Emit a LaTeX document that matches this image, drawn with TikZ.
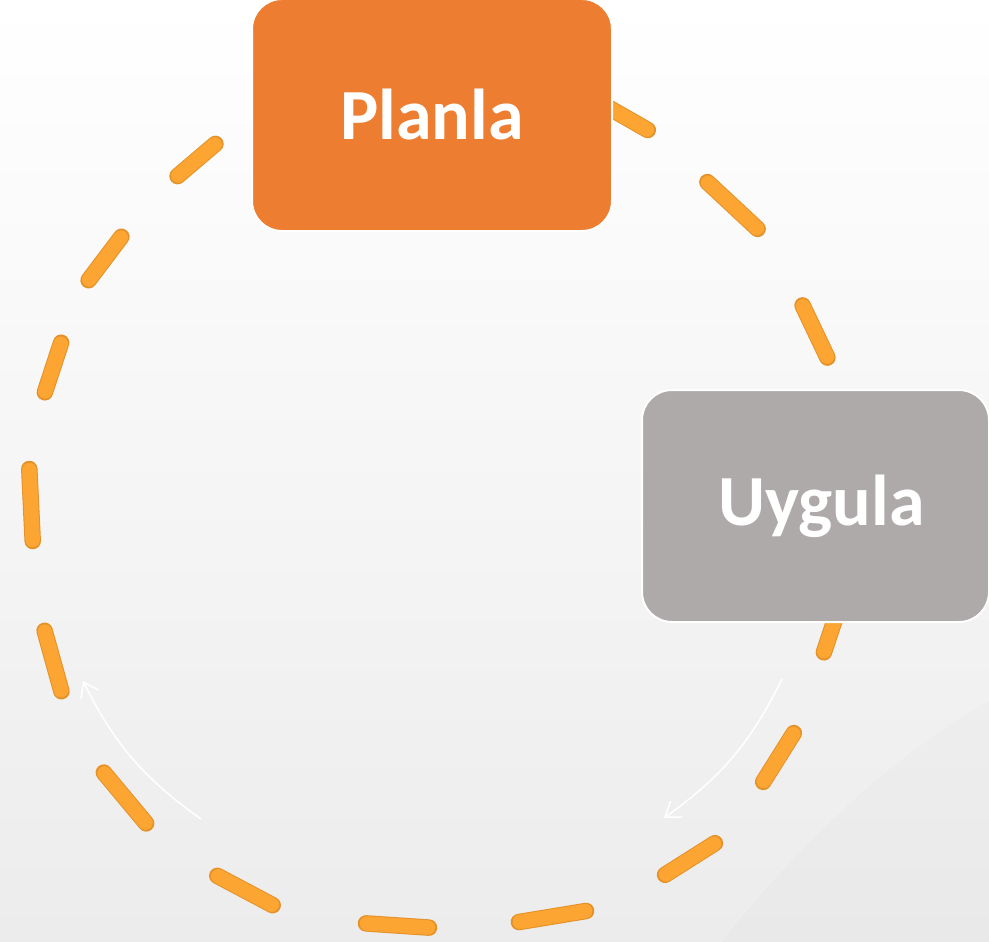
\documentclass[tikz,border=0pt]{standalone}
\usepackage{fontspec}
\setmainfont{Carlito}
\usetikzlibrary{arrows.meta}
\definecolor{boxorange}{RGB}{237,125,49}
\definecolor{boxgray}{RGB}{174,170,170}
\definecolor{dashfill}{RGB}{252,165,50}
\definecolor{dashedge}{RGB}{228,145,40}
\definecolor{bgbottom}{RGB}{236,236,236}
\begin{document}
\begin{tikzpicture}[x=1pt,y=-1pt,
  stagebox/.style={rounded corners=30pt, draw=white, line width=2pt, text=white,
    font=\bfseries\fontsize{72}{86}\selectfont, minimum width=360pt,
    minimum height=232pt, inner sep=0pt},
  dashseg/.style={line cap=round, line width=16.5pt, draw=dashedge,
    shorten <=6pt, shorten >=6pt},
  dashcore/.style={line cap=round, line width=14.5pt, draw=dashfill,
    shorten <=7pt, shorten >=7pt},
  cyclearrow/.style={draw=white, line width=1.5pt,
    -{Straight Barb[length=14pt,width=20pt]}}]
\useasboundingbox (0,0) rectangle (989,942);
\shade[top color=white, middle color=white, bottom color=bgbottom] (0,0) rectangle (989,942);
\fill[black, opacity=0.012] (720,942) .. controls (810,830) and (900,750) .. (989,700) -- (989,942) -- cycle;
\draw[white, opacity=0.2, line width=1pt] (720,942) .. controls (810,830) and (900,750) .. (989,700);
% dashed ring
\foreach \xa/\ya/\xb/\yb in {173/180/220/140, 85/285/125/232, 43/398/63/337,
    29/463/33/547, 43/625/63/697, 100/768/150/828, 212/873/278/908,
    360/923/435/928, 513/923/592/910, 660/878/720/840, 760/787/797/728,
    822/658/842/598, 800/300/830/363, 703/178/762/233, 590/97/653/133}{
  \draw[dashseg] (\xa,\ya) -- (\xb,\yb);
  \draw[dashcore] (\xa,\ya) -- (\xb,\yb);
}
% stages
\node[stagebox, fill=boxorange] (plan) at (432,115) {Planla};
\node[stagebox, fill=boxgray, minimum width=347pt] (apply) at (815.5,506) {\hspace*{12pt}Uygula};
% cycle arrows
\coordinate (r1) at (782,679);
\coordinate (r2) at (664,818);
\coordinate (l1) at (201,819);
\coordinate (l2) at (83,681);
\draw[cyclearrow] (r1) to[bend left=14] (r2);
\draw[cyclearrow] (l1) to[bend left=14] (l2);
\end{tikzpicture}
\end{document}
